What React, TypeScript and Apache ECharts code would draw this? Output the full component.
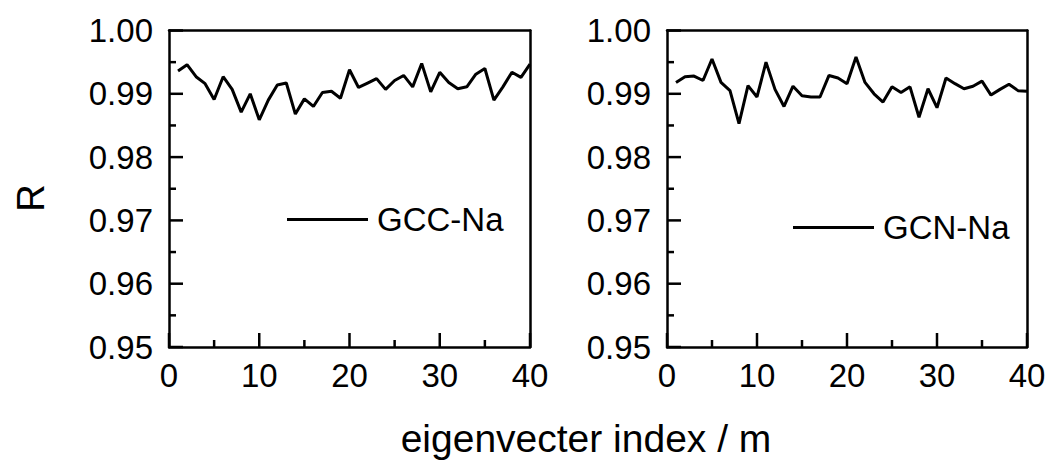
import React, { useEffect, useRef } from "react";
import * as echarts from "echarts";

const indices = Array.from({ length: 40 }, (_, i) => i + 1);

const gccNa = [
  0.9936, 0.9946, 0.9927, 0.9916, 0.9891, 0.9927, 0.9907, 0.9871, 0.99, 0.9859,
  0.989, 0.9914, 0.9917, 0.9868, 0.9892, 0.988, 0.9902, 0.9904, 0.9893, 0.9938,
  0.991, 0.9917, 0.9924, 0.9907, 0.9921, 0.9929, 0.9911, 0.9948, 0.9903, 0.9934,
  0.9918, 0.9908, 0.9911, 0.9931, 0.994, 0.989, 0.9911, 0.9934, 0.9926, 0.9947,
];

const gcnNa = [
  0.9918, 0.9927, 0.9928, 0.9921, 0.9955, 0.9918, 0.9905, 0.9853, 0.9913, 0.9895,
  0.995, 0.9907, 0.988, 0.9912, 0.9897, 0.9895, 0.9895, 0.9929, 0.9925, 0.9916,
  0.9958, 0.9918, 0.99, 0.9887, 0.9911, 0.9902, 0.9911, 0.9863, 0.9908, 0.9878,
  0.9925, 0.9916, 0.9908, 0.9912, 0.992, 0.9898, 0.9907, 0.9915, 0.9905, 0.9904,
];

const xTicks = [0, 10, 20, 30, 40];
const yTicks = [0.95, 0.96, 0.97, 0.98, 0.99, 1.0];
const seriesNames = ["GCC-Na", "GCN-Na"];
const xTitle = "eigenvecter index / m";
const yTitle = "R";

const FONT = "'Liberation Sans', Arial, Helvetica, sans-serif";
const LINE = { color: "#000", width: 2.5 };
const MAJOR_LEN = 14;
const MINOR_LEN = 7;

const xMin = xTicks[0];
const xMax = xTicks[xTicks.length - 1];
const yMin = yTicks[0];
const yMax = yTicks[yTicks.length - 1];

const mids = (arr: number[]) => arr.slice(0, -1).map((v, i) => +((v + arr[i + 1]) / 2).toFixed(6));

export default function App() {
  const ref = useRef<HTMLDivElement>(null);

  useEffect(() => {
    if (!ref.current) return;
    const chart = echarts.init(ref.current, null, { renderer: "svg" });

    const mkX = (gridIndex: number) => ({
      type: "value",
      gridIndex,
      position: "bottom",
      min: xMin,
      max: xMax,
      interval: xTicks[1] - xTicks[0],
      axisLine: { show: true, onZero: false, lineStyle: LINE },
      axisTick: { show: false },
      minorTick: { show: false },
      axisLabel: { show: true, color: "#000", fontSize: 33, fontFamily: FONT, margin: 12 },
      splitLine: { show: false },
    });

    const mkY = (gridIndex: number) => ({
      type: "value",
      gridIndex,
      position: "left",
      min: yMin,
      max: yMax,
      interval: 0.01,
      axisLine: { show: true, onZero: false, lineStyle: LINE },
      axisTick: { show: false },
      minorTick: { show: false },
      axisLabel: {
        show: true,
        color: "#000",
        fontSize: 33,
        fontFamily: FONT,
        margin: 16,
        formatter: (v: number) => v.toFixed(2),
      },
      splitLine: { show: false },
    });

    const mkXTop = (gridIndex: number) => ({
      type: "value",
      gridIndex,
      position: "top",
      min: xMin,
      max: xMax,
      axisLine: { show: true, onZero: false, lineStyle: LINE },
      axisTick: { show: false },
      axisLabel: { show: false },
      splitLine: { show: false },
    });

    const mkYRight = (gridIndex: number) => ({
      type: "value",
      gridIndex,
      position: "right",
      min: yMin,
      max: yMax,
      axisLine: { show: true, onZero: false, lineStyle: LINE },
      axisTick: { show: false },
      axisLabel: { show: false },
      splitLine: { show: false },
    });

    const gridBase = { top: 30.5, height: 316.5 };

    const legendBase = {
      orient: "horizontal",
      icon: "rect",
      itemWidth: 81,
      itemHeight: 3,
      textStyle: { color: "#000", fontSize: 33, fontFamily: FONT, padding: [0, 0, 0, 4] },
      selectedMode: false,
    };

    chart.setOption({
      animation: false,
      backgroundColor: "#fff",
      grid: [
        { ...gridBase, left: 169, width: 361 },
        { ...gridBase, left: 667, width: 360 },
      ],
      xAxis: [mkX(0), mkX(1), mkXTop(0), mkXTop(1)],
      yAxis: [mkY(0), mkY(1), mkYRight(0), mkYRight(1)],
      legend: [
        { ...legendBase, data: [seriesNames[0]], left: 282, top: 198 },
        { ...legendBase, data: [seriesNames[1]], left: 788, top: 206 },
      ],
      series: [
        {
          name: seriesNames[0],
          type: "line",
          xAxisIndex: 0,
          yAxisIndex: 0,
          data: indices.map((x, i) => [x, gccNa[i]]),
          symbol: "none",
          lineStyle: { color: "#000", width: 3 },
          itemStyle: { color: "#000" },
        },
        {
          name: seriesNames[1],
          type: "line",
          xAxisIndex: 1,
          yAxisIndex: 1,
          data: indices.map((x, i) => [x, gcnNa[i]]),
          symbol: "none",
          lineStyle: { color: "#000", width: 3 },
          itemStyle: { color: "#000" },
        },
      ],
    });

    // inward ticks, positioned through the axes' own scales
    const tickLines: any[] = [];
    const addLine = (x1: number, y1: number, x2: number, y2: number) =>
      tickLines.push({
        type: "line",
        silent: true,
        z: 10,
        shape: { x1, y1, x2, y2 },
        style: { stroke: "#000", lineWidth: 2.5 },
      });
    [0, 1].forEach((gi) => {
      const finder = { xAxisIndex: gi, yAxisIndex: gi };
      const xs: [number, number][] = [
        ...xTicks.map((v) => [v, MAJOR_LEN] as [number, number]),
        ...mids(xTicks).map((v) => [v, MINOR_LEN] as [number, number]),
      ];
      const ys: [number, number][] = [
        ...yTicks.map((v) => [v, MAJOR_LEN] as [number, number]),
        ...mids(yTicks).map((v) => [v, MINOR_LEN] as [number, number]),
      ];
      xs.forEach(([v, len]) => {
        const p = chart.convertToPixel(finder as any, [v, yMin]) as number[];
        if (p) addLine(p[0], p[1], p[0], p[1] - len);
      });
      ys.forEach(([v, len]) => {
        const p = chart.convertToPixel(finder as any, [xMin, v]) as number[];
        if (p) addLine(p[0], p[1], p[0] + len, p[1]);
      });
    });

    chart.setOption({
      graphic: [
        {
          type: "text",
          x: 586,
          y: 438,
          style: {
            text: xTitle,
            font: `39px ${FONT}`,
            fill: "#000",
            align: "center",
            verticalAlign: "middle",
          },
        },
        {
          type: "text",
          x: 31,
          y: 198,
          rotation: Math.PI / 2,
          style: {
            text: yTitle,
            font: `38px ${FONT}`,
            fill: "#000",
            align: "center",
            verticalAlign: "middle",
          },
        },
        ...tickLines,
      ],
    });

    return () => chart.dispose();
  }, []);

  return (
    <div
      ref={ref}
      style={{ width: 1051, height: 461, position: "absolute", left: 0, top: 0, background: "#fff" }}
    />
  );
}
